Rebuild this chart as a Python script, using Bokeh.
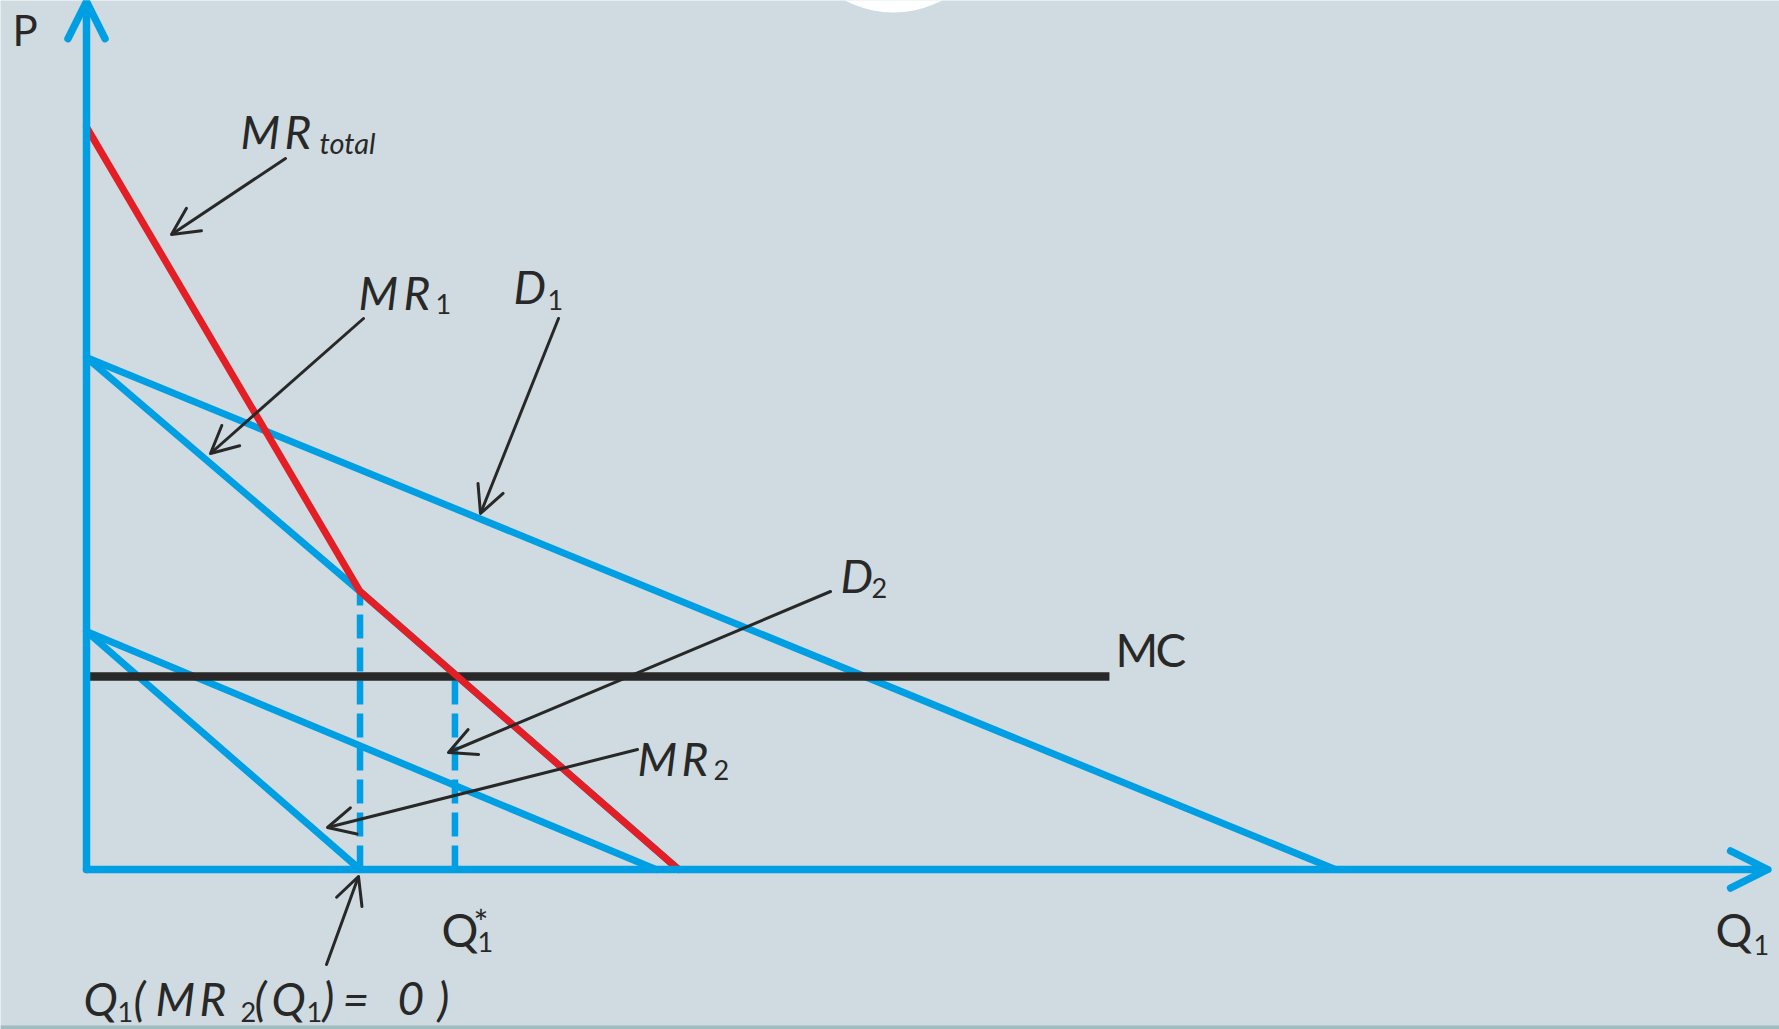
from bokeh.plotting import figure
from bokeh.models import Range1d, Arrow, OpenHead
from bokeh.core.properties import value
from bokeh.embed import file_html
from bokeh.resources import INLINE

# ---------------- data (Q units: D1 meets axis at 100; P units: D1 intercept 100)
d1_q = [0, 100.0]
d1_p = [100.0, 0]
d2_q = [0, 45.6]
d2_p = [46.5, 0]
mr1_q = [0, 21.9, 47.4]
mr1_p = [100.0, 54.3, 0]
mr2_q = [0, 21.9]
mr2_p = [46.5, 0]
mrt_q = [0, 21.9, 47.4]
mrt_p = [145.0, 54.3, 0]
mc_q = [0, 81.9]
mc_p = [37.7, 37.7]
q_kink, p_kink = 21.9, 54.3
q_star, p_mc = 29.5, 37.7
q_axis_end, p_axis_end = 134.6, 169.5

# ---------------- layout helpers (page pixels -> data units)
W, H = 1779, 1029
PXQ, PXP = 12.49, 5.12
OX, OY = 86, 869


def qx(px):
    return (px - OX) / PXQ


def py(pp):
    return (OY - pp) / PXP


BG = "#cfdbe0"
BLUE = "#009fe3"
RED = "#e31e24"
DARK = "#282828"
FONT = value("Lato")

p = figure(width=W, height=H,
           x_range=Range1d(qx(0), qx(W)), y_range=Range1d(py(H), py(0)),
           x_axis_type=None, y_axis_type=None,
           output_backend="svg", toolbar_location=None,
           min_border=0, background_fill_color=BG, border_fill_color=BG,
           outline_line_color=None)

# decorations: white circle at the top, strip at the bottom
p.scatter(x=[qx(893)], y=[py(-92)], size=208, marker="circle",
          fill_color="white", line_color=None)
p.quad(left=[qx(0)], right=[qx(W)], bottom=[py(H)], top=[py(1025)],
       fill_color="#9fbcbe", line_color=None)

# blue curves
LW = 7
p.line(d1_q, d1_p, line_color=BLUE, line_width=LW, line_cap="round")
p.line(d2_q, d2_p, line_color=BLUE, line_width=LW, line_cap="round")
p.line(mr1_q, mr1_p, line_color=BLUE, line_width=LW, line_cap="round", line_join="round")
p.line(mr2_q, mr2_p, line_color=BLUE, line_width=LW, line_cap="round")

# dashed guides
p.segment(x0=[q_kink, q_star], y0=[0, 0], x1=[q_kink, q_star], y1=[p_kink, p_mc],
          line_color=BLUE, line_width=6.5, line_dash="24 9")

# MC
p.line(mc_q, mc_p, line_color=DARK, line_width=8.5, line_cap="butt")

# MR total
p.line(mrt_q, mrt_p, line_color=RED, line_width=7, line_cap="round", line_join="round")

# axes with arrow heads
for xe, ye in ((0, p_axis_end), (q_axis_end, 0)):
    p.add_layout(Arrow(end=OpenHead(size=37, line_width=7.5, line_color=BLUE,
                                    line_cap="round", line_join="round"),
                       x_start=0, y_start=0, x_end=xe, y_end=ye,
                       line_width=7.5, line_color=BLUE, line_cap="round"))

# pointer arrows (page px start -> tip)
pointers = [
    ((285, 158), (171, 234)),   # MR total
    ((363, 318), (210, 453)),   # MR1
    ((558, 318), (480, 513)),   # D1
    ((830, 591), (448, 752)),   # D2
    ((637, 749), (327, 827)),   # MR2
    ((326, 964), (358, 876)),   # Q1(MR2=0)
]
for (sx, sy), (ex, ey) in pointers:
    p.add_layout(Arrow(end=OpenHead(size=27, line_width=3, line_color=DARK,
                                    line_cap="round", line_join="round"),
                       x_start=qx(sx), y_start=py(sy), x_end=qx(ex), y_end=py(ey),
                       line_width=3, line_color=DARK, line_cap="round"))

BASE_SHIFT = 0.38  # empirical baseline correction (em)


def labels(items, size, style):
    p.text(x=[qx(a) for _, a, _ in items],
           y=[py(b - BASE_SHIFT * size) for _, _, b in items],
           text=[t for t, _, _ in items], text_font=FONT,
           text_font_size=value(f"{size}px"), text_font_style=style,
           text_color=DARK, text_baseline="alphabetic", text_align="left")


# italic main labels (placed glyph by glyph)
labels([("M", 240, 148), ("R", 284, 148),
        ("M", 358, 309), ("R", 403, 309),
        ("D", 513, 303), ("D", 840, 592),
        ("M", 637, 775), ("R", 681, 775),
        ("Q", 83, 1015), ("(", 133, 1015), ("M", 155, 1015), ("R", 199, 1015),
        ("(", 254, 1015), ("Q", 271, 1015), (")", 322, 1015), ("=", 342, 1015),
        ("0", 397, 1015), (")", 437, 1015)], 46, "italic")
# italic subscript "total"
labels([("total", 319, 153)], 29, "italic")
# upright subscripts
labels([("1", 435, 314), ("1", 547, 310), ("2", 871, 598), ("2", 713, 780),
        ("1", 117, 1022), ("2", 240, 1022), ("1", 306, 1022),
        ("1", 477, 952), ("1", 1753, 955)], 27, "normal")
labels([("*", 473, 934)], 35, "normal")
# upright main labels
labels([("M", 1115, 666), ("C", 1155, 666), ("Q", 441, 946), ("Q", 1715, 946)], 46, "normal")
labels([("P", 12, 45)], 42, "normal")

open("out.html", "w").write(file_html(p, INLINE))
